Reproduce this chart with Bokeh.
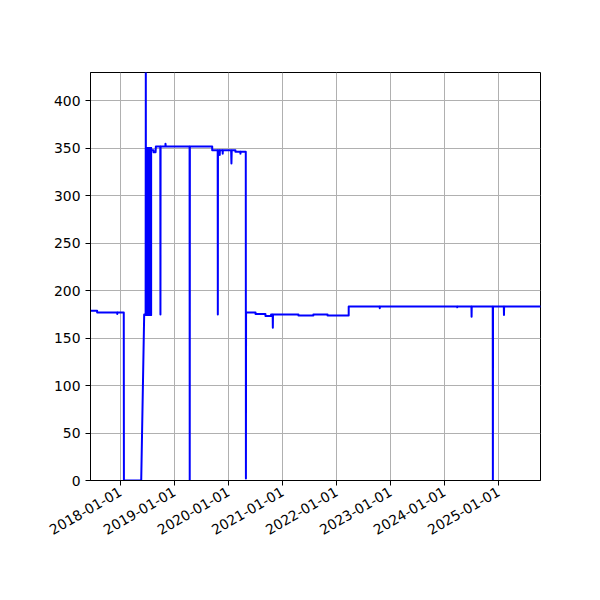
import math
import pandas as pd
from bokeh.plotting import figure
from bokeh.models import Range1d, FixedTicker, DatetimeTickFormatter, ColumnDataSource
from bokeh.embed import file_html
from bokeh.resources import INLINE

# ---- data ----
dates = [
    "2017-06-12", "2017-07-27", "2017-07-27", "2017-12-10", "2017-12-10", "2017-12-11",
    "2018-01-23", "2018-01-24", "2018-05-21", "2018-06-10", "2018-06-20", "2018-06-21",
    "2018-06-22", "2018-06-22", "2018-07-27", "2018-07-27",
    "2018-08-12", "2018-08-12", "2018-08-26", "2018-08-28",
    "2018-09-27", "2018-09-28", "2018-09-29",
    "2018-11-01", "2018-11-01", "2018-11-03",
    "2019-04-13", "2019-04-14", "2019-04-15",
    "2019-09-13", "2019-09-13",
    "2019-10-20", "2019-10-21", "2019-10-22",
    "2019-11-02", "2019-11-03", "2019-11-04",
    "2019-11-22", "2019-11-23", "2019-11-24",
    "2020-01-19", "2020-01-21", "2020-01-23",
    "2020-02-17", "2020-02-17",
    "2020-03-21", "2020-03-22", "2020-03-23",
    "2020-04-27", "2020-04-28", "2020-04-29",
    "2020-07-02", "2020-07-02",
    "2020-09-07", "2020-09-07",
    "2020-10-15", "2020-10-15",
    "2020-10-26", "2020-10-27", "2020-10-28",
    "2021-04-18", "2021-04-18",
    "2021-07-28", "2021-07-28",
    "2021-11-01", "2021-11-01",
    "2022-03-24", "2022-03-24",
    "2022-10-19", "2022-10-20", "2022-10-21",
    "2024-03-26", "2024-03-27", "2024-03-28",
    "2024-07-01", "2024-07-02", "2024-07-03",
    "2024-11-22", "2024-11-23", "2024-11-24",
    "2025-02-05", "2025-02-06", "2025-02-07",
    "2025-10-11",
]
values = [
    179, 179, 177, 177, 175.5, 177,
    177, 0, 0, 175, 175, 440,
    175, 350, 350, 348,
    348, 346, 346, 352,
    352, 175, 352,
    352, 355, 352,
    352, 0, 352,
    352, 348,
    348, 175, 348,
    348, 343, 348,
    348, 344.5, 348,
    348, 334, 348,
    348, 346.5,
    346.5, 344.5, 346.5,
    346.5, 2, 177,
    177, 175.5,
    175.5, 173.5,
    173.5, 175,
    175, 161, 175,
    175, 174,
    174, 175,
    175, 174,
    174, 183.5,
    183.5, 181.5, 183.5,
    183.5, 182.5, 183.5,
    183.5, 172.5, 183.5,
    183.5, 0, 183.5,
    183.5, 174.5, 183.5,
    183.5,
]
# dense back-and-forth swings (summer 2018), one per day
swing_dates = [
    "2018-06-22", "2018-06-23", "2018-06-24", "2018-06-25", "2018-06-26", "2018-06-27",
    "2018-06-28", "2018-06-29", "2018-06-30", "2018-07-01", "2018-07-02", "2018-07-03",
    "2018-07-04", "2018-07-05", "2018-07-06", "2018-07-07", "2018-07-08", "2018-07-09",
    "2018-07-10", "2018-07-11", "2018-07-12", "2018-07-13", "2018-07-14", "2018-07-15",
    "2018-07-16", "2018-07-17", "2018-07-18", "2018-07-19", "2018-07-20", "2018-07-21",
    "2018-07-22", "2018-07-23", "2018-07-24", "2018-07-25", "2018-07-26", "2018-07-27",
]
swing_low = [175] * len(swing_dates)
swing_high = [350] * len(swing_dates)

tick_labels = ["2018-01-01", "2019-01-01", "2020-01-01", "2021-01-01",
               "2022-01-01", "2023-01-01", "2024-01-01", "2025-01-01"]
y_ticks = [0, 50, 100, 150, 200, 250, 300, 350, 400]

x_start = pd.Timestamp("2017-06-12")
x_end = pd.Timestamp("2025-10-11")

src = ColumnDataSource(dict(x=pd.to_datetime(dates), y=values))
swing_src = ColumnDataSource(dict(x=pd.to_datetime(swing_dates), y0=swing_low, y1=swing_high))

p = figure(width=592, height=592, output_backend="svg", toolbar_location=None,
           x_axis_type="datetime",
           x_range=Range1d(x_start, x_end), y_range=Range1d(0, 430),
           min_border_left=90, min_border_right=52, min_border_top=72, min_border_bottom=112)

p.line("x", "y", source=src, line_color="blue", line_width=2,
       line_join="round", line_cap="square")
p.segment(x0="x", y0="y0", x1="x", y1="y1", source=swing_src,
          line_color="blue", line_width=2, line_cap="square")

p.xaxis.ticker = FixedTicker(ticks=[pd.Timestamp(t).value / 1e6 for t in tick_labels])
fmt = "%Y-%m-%d"
p.xaxis.formatter = DatetimeTickFormatter(milliseconds=fmt, seconds=fmt, minsec=fmt, minutes=fmt,
                                          hourmin=fmt, hours=fmt, days=fmt, months=fmt, years=fmt)
p.xaxis.major_label_orientation = math.pi / 6
p.yaxis.ticker = FixedTicker(ticks=y_ticks)

for ax in (p.xaxis, p.yaxis):
    ax.axis_line_color = "black"
    ax.major_tick_line_color = "black"
    ax.major_tick_out = 5
    ax.major_tick_in = 0
    ax.minor_tick_line_color = None
    ax.major_label_text_font = "DejaVu Sans"
    ax.major_label_text_font_size = "13.9px"
    ax.major_label_text_color = "black"
    ax.major_label_standoff = 5

for g in (p.xgrid, p.ygrid):
    g.grid_line_color = "#b0b0b0"
    g.grid_line_width = 1

p.xgrid.ticker = p.xaxis.ticker
p.ygrid.ticker = p.yaxis.ticker
p.outline_line_color = "black"
p.outline_line_width = 1
p.background_fill_color = "white"
p.border_fill_color = "white"

open("out.html", "w").write(file_html(p, INLINE))
